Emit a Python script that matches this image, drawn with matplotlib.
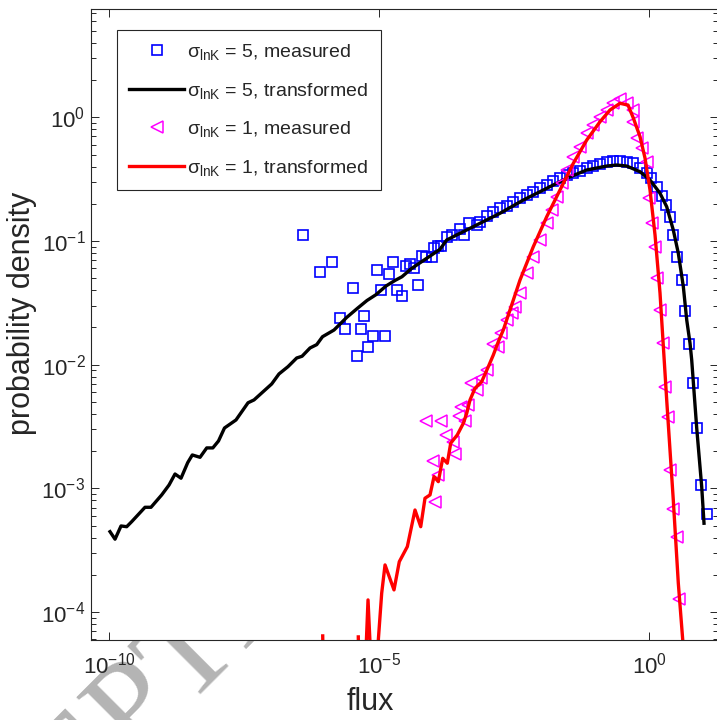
import numpy as np
import matplotlib.pyplot as plt
from matplotlib.ticker import LogLocator, NullLocator

plt.rcParams['font.family'] = ['Liberation Sans', 'DejaVu Sans']
plt.rcParams['mathtext.fontset'] = 'custom'
plt.rcParams['mathtext.rm'] = 'Liberation Sans'
plt.rcParams['mathtext.it'] = 'Liberation Sans:italic'
plt.rcParams['mathtext.bf'] = 'Liberation Sans:bold'

# values, as log10(flux) and log10(probability density)
# sigma_lnK = 5, transformed (black line)
s5_line_lx = [-9.987, -9.894, -9.783, -9.678, -9.585, -9.339, -9.228, -9.030, -8.894, -8.783,
              -8.672, -8.548, -8.463, -8.320, -8.196, -8.083, -7.978, -7.867, -7.654, -7.431,
              -7.320, -6.993, -6.858, -6.691, -6.530, -6.431, -6.283, -6.159, -6.052, -5.839,
              -5.604, -5.404, -5.228, -5.061, -4.876, -4.709, -4.580, -4.413, -4.215, -4.030,
              -3.876, -3.752, -3.259, -2.765, -2.333, -1.963, -1.530, -1.159, -0.789, -0.604,
              -0.419, -0.172, 0.013, 0.198, 0.322, 0.444, 0.537, 0.630, 0.693, 0.754,
              0.785, 0.878, 0.970, 1.013]
s5_line_ly = [-3.350, -3.411, -3.304, -3.310, -3.269, -3.153, -3.153, -3.053, -2.973, -2.884,
              -2.918, -2.792, -2.730, -2.749, -2.673, -2.673, -2.617, -2.512, -2.447, -2.308,
              -2.285, -2.156, -2.075, -2.016, -1.946, -1.932, -1.865, -1.838, -1.774, -1.720,
              -1.618, -1.544, -1.481, -1.434, -1.364, -1.319, -1.289, -1.226, -1.167, -1.113,
              -1.067, -0.992, -0.884, -0.776, -0.669, -0.588, -0.493, -0.426, -0.394, -0.386,
              -0.394, -0.440, -0.507, -0.614, -0.723, -0.911, -1.099, -1.369, -1.639, -1.827,
              -1.962, -2.514, -2.986, -3.282]

# sigma_lnK = 5, measured (blue squares)
s5_meas_lx = [-6.407, -6.098, -5.876, -5.733, -5.635, -5.493, -5.419, -5.344, -5.278, -5.204,
              -5.111, -5.037, -4.963, -4.894, -4.815, -4.746, -4.667, -4.574, -4.500, -4.426,
              -4.357, -4.283, -4.215, -4.135, -4.030, -3.981, -3.907, -3.857, -3.752, -3.659,
              -3.506, -3.426, -3.333, -3.196, -3.135, -3.011, -2.889, -2.765, -2.641, -2.519,
              -2.394, -2.270, -2.148, -2.024, -1.900, -1.778, -1.654, -1.530, -1.407, -1.283,
              -1.159, -1.037, -0.913, -0.789, -0.667, -0.543, -0.419, -0.296, -0.172, -0.048,
              0.026, 0.137, 0.230, 0.309, 0.383, 0.444, 0.507, 0.600, 0.667, 0.733,
              0.804, 0.878, 0.954, 1.063]
s5_meas_ly = [-0.952, -1.248, -1.172, -1.625, -1.711, -1.382, -1.930, -1.711, -1.606, -1.857,
              -1.766, -1.237, -1.394, -1.766, -1.267, -1.172, -1.394, -1.447, -1.202, -1.184,
              -1.222, -1.356, -1.121, -1.127, -1.132, -1.057, -1.040, -1.038, -0.970, -0.951,
              -0.903, -0.951, -0.857, -0.871, -0.844, -0.798, -0.763, -0.736, -0.717, -0.687,
              -0.655, -0.628, -0.601, -0.574, -0.547, -0.515, -0.493, -0.466, -0.453, -0.434,
              -0.412, -0.394, -0.378, -0.361, -0.353, -0.353, -0.359, -0.367, -0.412, -0.453,
              -0.493, -0.561, -0.636, -0.709, -0.808, -0.951, -1.127, -1.315, -1.563, -1.835,
              -2.152, -2.509, -2.974, -3.205]

# sigma_lnK = 1, measured (magenta triangles)
s1_meas_lx = [-4.141, -3.857, -3.969, -4.000, -3.907, -3.774, -3.630, -3.607, -3.491, -3.528,
              -3.413, -3.352, -3.311, -3.196, -3.117, -3.011, -2.889, -2.796, -2.750, -2.641,
              -2.548, -2.487, -2.394, -2.270, -2.148, -2.024, -1.900, -1.807, -1.715, -1.622,
              -1.530, -1.407, -1.283, -1.159, -1.037, -0.913, -0.789, -0.667, -0.543, -0.419,
              -0.296, -0.296, -0.233, -0.141, -0.048, 0.000, 0.044, 0.106, 0.137, 0.198,
              0.248, 0.291, 0.341, 0.383, 0.433, 0.507, 0.556]
s1_meas_ly = [-2.453, -2.453, -3.110, -2.776, -2.892, -2.572, -2.623, -2.722, -2.342, -2.417,
              -2.455, -2.326, -2.150, -2.205, -2.108, -2.043, -1.833, -1.855, -1.744, -1.639,
              -1.585, -1.531, -1.423, -1.261, -1.127, -0.992, -0.857, -0.749, -0.642, -0.534,
              -0.426, -0.319, -0.238, -0.129, -0.062, 0.005, 0.059, 0.113, 0.146, 0.113,
              0.059, -0.036, -0.167, -0.251, -0.359, -0.655, -0.857, -1.046, -1.302, -1.560,
              -1.822, -2.183, -2.420, -2.851, -3.169, -3.395, -3.897]

# sigma_lnK = 1, transformed (red line), nan = empty bin
s1_line_lx = [-6.048, -6.006, np.nan, -5.389, -5.357, np.nan, -5.310, -5.209, -5.135, -5.080,
              -4.956, -4.894, -4.728, -4.630, -4.481, -4.339, -4.233, -4.154, -4.061, -3.987,
              -3.907, -3.826, -3.741, -3.678, -3.556, -3.444, -3.381, -3.320, -3.228, -3.104,
              -2.981, -2.889, -2.796, -2.704, -2.580, -2.394, -2.148, -1.900, -1.654, -1.407,
              -1.159, -0.913, -0.728, -0.543, -0.394, -0.296, -0.172, -0.080, 0.013, 0.106,
              0.198, 0.322, 0.444, 0.537, 0.619, 0.652]
s1_line_ly = [-4.193, -5.5, np.nan, -4.201, -5.5, np.nan, -5.0, -3.902, -4.6, -4.6,
              -3.848, -3.619, -3.821, -3.593, -3.471, -3.175, -3.310, -3.080, -3.053, -2.905,
              -2.946, -2.757, -2.797, -2.635, -2.568, -2.474, -2.393, -2.285, -2.191, -2.137,
              -2.016, -1.922, -1.814, -1.720, -1.558, -1.315, -1.046, -0.804, -0.588, -0.372,
              -0.184, -0.036, 0.059, 0.113, 0.099, -0.006, -0.157, -0.329, -0.588, -0.952,
              -1.420, -2.285, -3.094, -3.767, -4.226, -4.47]

labels = [r'σ$_{\mathrm{lnK}}$ = 5, measured', r'σ$_{\mathrm{lnK}}$ = 5, transformed',
          r'σ$_{\mathrm{lnK}}$ = 1, measured', r'σ$_{\mathrm{lnK}}$ = 1, transformed']

def p10(v):
    return np.power(10.0, np.array(v, dtype=float))

axcol = '#262626'

fig = plt.figure(figsize=(7.17, 7.2), dpi=100)

# journal watermark, sits behind the axes
fig.text(-114 / 717, -289 / 720, 'ACCEPTED MANUSCRIPT', rotation=45, rotation_mode='anchor',
         ha='left', va='baseline', fontsize=95, color='#b4b4b4', family='Liberation Serif',
         zorder=-1)

ax = fig.add_axes([91 / 717, 80 / 720, 627 / 717, 631 / 720])

ax.plot(p10(s5_meas_lx), p10(s5_meas_ly), 's', ms=6.5, mfc='none', mec='#0000ff', mew=1.2,
        label=labels[0])
ax.plot(p10(s5_line_lx), p10(s5_line_ly), '-', color='k', lw=2.4, label=labels[1])
ax.plot(p10(s1_meas_lx), p10(s1_meas_ly), '<', ms=8, mfc='none', mec='#ff00ff', mew=1.1,
        label=labels[2])
ax.plot(p10(s1_line_lx), p10(s1_line_ly), '-', color='#ff0000', lw=2.4, label=labels[3])

ax.set_xscale('log')
ax.set_yscale('log')
ax.set_xlim(10 ** -10.339, 10 ** 1.272)
ax.set_ylim(10 ** -4.226, 10 ** 0.8755)

ax.set_xticks([1e-10, 1e-5, 1e0])
ax.xaxis.set_minor_locator(NullLocator())
ax.yaxis.set_major_locator(LogLocator(base=10, numticks=20))
ax.yaxis.set_minor_locator(LogLocator(base=10, subs=np.arange(2, 10), numticks=20))

ax.tick_params(which='both', direction='in', top=True, right=True, colors=axcol,
               labelsize=16, width=0.7)
ax.tick_params(which='major', length=5.5)
ax.tick_params(which='minor', length=3.5)
ax.tick_params(axis='x', pad=9)
ax.tick_params(axis='y', pad=4)
for s in ax.spines.values():
    s.set_color(axcol)
    s.set_linewidth(0.8)

ax.set_xlabel('flux', fontsize=22, color=axcol)
ax.set_ylabel('probability density', fontsize=22, color=axcol)
ax.xaxis.set_label_coords(0.445, -0.075)
ax.yaxis.set_label_coords(-0.086, 0.518)

leg = ax.legend(loc='upper left', bbox_to_anchor=(0.0415, 0.967), borderaxespad=0,
                fontsize=14, numpoints=1, handlelength=2.85, handletextpad=0.15,
                labelspacing=0.96, borderpad=0.62, fancybox=False, framealpha=1,
                edgecolor=axcol)
leg.get_frame().set_linewidth(0.8)
for t in leg.get_texts():
    t.set_color(axcol)

fig.savefig('out.png', dpi=100)
